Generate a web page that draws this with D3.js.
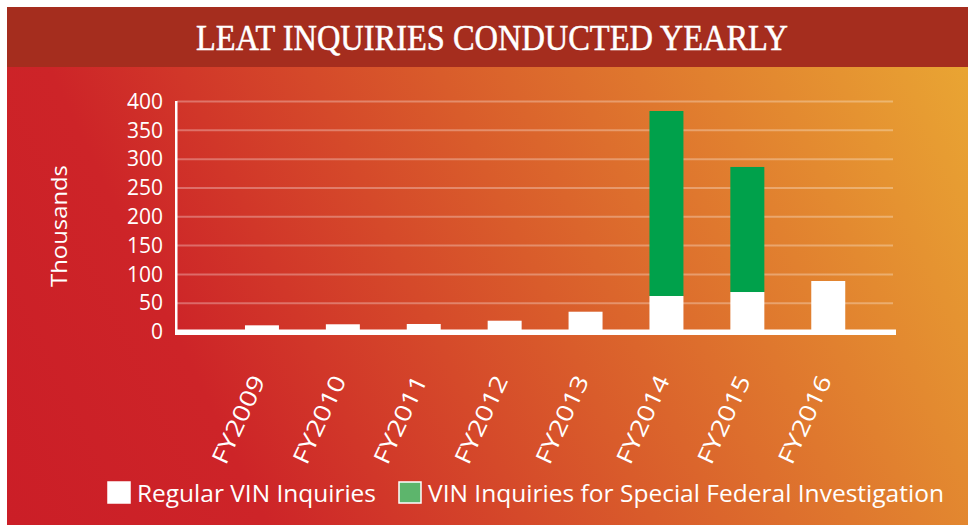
<!DOCTYPE html>
<html>
<head>
<meta charset="UTF-8">
<title>LEAT Inquiries Conducted Yearly</title>
<script src="https://d3js.org/d3.v7.min.js"></script>
<style>
  html, body { margin: 0; padding: 0; background: #fff; }
  svg { display: block; }
</style>
</head>
<body>
<script>
// values in thousands
var years = ["FY2009", "FY2010", "FY2011", "FY2012", "FY2013", "FY2014", "FY2015", "FY2016"];
var regular = [11.6, 13.4, 13.9, 19.6, 35.2, 62.5, 69.4, 88.5];
var special = [0, 0, 0, 0, 0, 321, 217, 0];
var yTicks = [0, 50, 100, 150, 200, 250, 300, 350, 400];
var seriesNames = ["Regular VIN Inquiries", "VIN Inquiries for Special Federal Investigation"];

var w = 968, h = 525;
var sans = "'Open Sans', 'Noto Sans', sans-serif";

var svg = d3.select("body").append("svg")
    .attr("width", w)
    .attr("height", h);

var defs = svg.append("defs");
var grad = defs.append("linearGradient")
    .attr("id", "bg")
    .attr("gradientUnits", "userSpaceOnUse")
    .attr("x1", 7).attr("y1", 525)
    .attr("x2", 968).attr("y2", 67);
grad.selectAll("stop")
    .data([[0, "#cb1e27"], [0.22, "#cd2428"], [0.55, "#d95c2b"], [1, "#e9a533"]])
    .enter().append("stop")
    .attr("offset", function (d) { return d[0]; })
    .attr("stop-color", function (d) { return d[1]; });

// backgrounds
svg.append("rect")
    .attr("x", 7).attr("y", 67)
    .attr("width", w - 7).attr("height", h - 67)
    .attr("fill", "url(#bg)");
svg.append("rect")
    .attr("x", 7).attr("y", 7)
    .attr("width", w - 7).attr("height", 60)
    .attr("fill", "#a52d1e");

svg.append("text")
    .attr("x", 492).attr("y", 50)
    .attr("text-anchor", "middle")
    .attr("fill", "#fff")
    .attr("stroke", "#fff")
    .attr("stroke-width", 0.5)
    .attr("font-family", "'Liberation Serif', 'DejaVu Serif', serif")
    .attr("font-size", 35)
    .attr("textLength", 592)
    .attr("lengthAdjust", "spacingAndGlyphs")
    .text("LEAT INQUIRIES CONDUCTED YEARLY");

// scales
var x = d3.scaleBand()
    .domain(years)
    .range([221.5, 868.7])
    .paddingInner(0.58)
    .paddingOuter(0.29);

var y = d3.scaleLinear()
    .domain([0, 400])
    .range([332, 101.5]);

// gridlines
svg.append("g").selectAll("line")
    .data(yTicks.slice(1))
    .enter().append("line")
    .attr("x1", 177).attr("x2", 893)
    .attr("y1", function (d) { return y(d); })
    .attr("y2", function (d) { return y(d); })
    .attr("stroke", "rgba(255,255,255,0.3)")
    .attr("stroke-width", 2);

// stacked bars
var rows = years.map(function (yr, i) {
    return { year: yr, regular: regular[i], special: special[i] };
});
var stack = d3.stack().keys(["regular", "special"])(rows);
var colors = { regular: "#ffffff", special: "#00a14b" };

svg.append("g").selectAll("g")
    .data(stack)
    .enter().append("g")
    .attr("fill", function (d) { return colors[d.key]; })
    .selectAll("rect")
    .data(function (d) { return d; })
    .enter().append("rect")
    .attr("x", function (d) { return x(d.data.year); })
    .attr("width", x.bandwidth())
    .attr("y", function (d) { return y(d[1]); })
    .attr("height", function (d) { return Math.max(0, y(d[0]) - y(d[1])); });

// axis lines
svg.append("rect")
    .attr("x", 175).attr("y", 101)
    .attr("width", 2.5).attr("height", 234)
    .attr("fill", "#fff");
svg.append("rect")
    .attr("x", 175).attr("y", 329.5)
    .attr("width", 721).attr("height", 5.5)
    .attr("fill", "#fff");

// y axis labels
var yAxis = svg.append("g")
    .attr("transform", "translate(176,0)")
    .call(d3.axisLeft(y).tickValues(yTicks).tickSize(0).tickPadding(13));
yAxis.select(".domain").remove();
yAxis.selectAll("text")
    .attr("fill", "#fff")
    .attr("font-family", sans)
    .attr("font-size", 21);

svg.append("text")
    .attr("transform", "translate(67,226) rotate(-90)")
    .attr("text-anchor", "middle")
    .attr("fill", "#fff")
    .attr("font-family", sans)
    .attr("font-size", 22.5)
    .attr("textLength", 122)
    .attr("lengthAdjust", "spacingAndGlyphs")
    .text("Thousands");

// x axis labels
var xAxis = svg.append("g")
    .attr("transform", "translate(0,380)")
    .call(d3.axisBottom(x).tickSize(0));
xAxis.select(".domain").remove();
xAxis.selectAll("text")
    .attr("x", 0).attr("y", 0).attr("dy", 0)
    .attr("transform", "translate(4,0) rotate(-65)")
    .attr("text-anchor", "end")
    .attr("fill", "#fff")
    .attr("font-family", sans)
    .attr("font-size", 23)
    .attr("textLength", 95)
    .attr("lengthAdjust", "spacingAndGlyphs");

// legend
var legend = svg.append("g");
var legendItems = [
    { name: seriesNames[0], sx: 108, tx: 137, len: 239, fill: "#ffffff" },
    { name: seriesNames[1], sx: 399, tx: 428, len: 516, fill: "#5db56c" }
];
legend.selectAll("rect")
    .data(legendItems)
    .enter().append("rect")
    .attr("x", function (d) { return d.sx; })
    .attr("y", 482)
    .attr("width", 22).attr("height", 21)
    .attr("fill", function (d) { return d.fill; })
    .attr("stroke", "#fff")
    .attr("stroke-width", 1.5);
legend.selectAll("text")
    .data(legendItems)
    .enter().append("text")
    .attr("x", function (d) { return d.tx; })
    .attr("y", 502)
    .attr("fill", "#fff")
    .attr("font-family", sans)
    .attr("font-size", 23)
    .attr("textLength", function (d) { return d.len; })
    .attr("lengthAdjust", "spacingAndGlyphs")
    .text(function (d) { return d.name; });
</script>
</body>
</html>
